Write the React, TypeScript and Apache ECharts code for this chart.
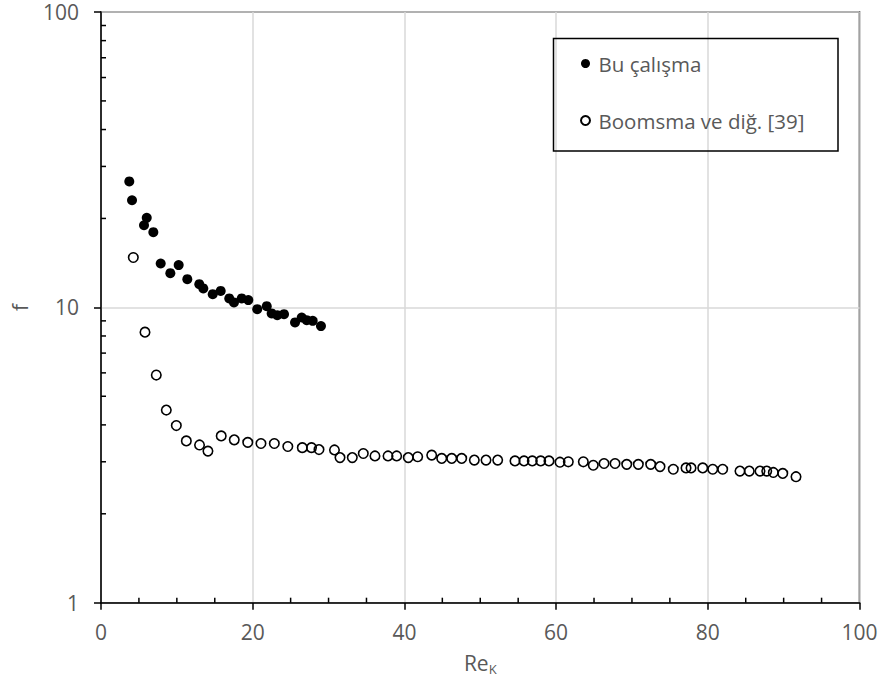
import React, { useEffect, useRef } from "react";
import * as echarts from "echarts";

const seriesNames = ["Bu çalışma", "Boomsma ve diğ. [39]"];

const reThisStudy = [3.73, 4.09, 5.67, 6.03, 6.9, 7.87, 9.14, 10.24, 11.38, 12.96, 13.49, 14.73, 15.78, 16.91, 17.53, 18.55, 19.42, 20.6, 21.85, 22.5, 23.24, 24.13, 25.58, 26.46, 27.12, 27.91, 29.0];
const fThisStudy = [26.7, 23.05, 18.97, 20.1, 17.97, 14.08, 13.05, 13.9, 12.46, 11.98, 11.59, 11.08, 11.37, 10.72, 10.39, 10.72, 10.58, 9.86, 10.09, 9.54, 9.41, 9.48, 8.89, 9.24, 9.05, 9.0, 8.64];

const reBoomsma = [4.26, 5.8, 7.29, 8.61, 9.93, 11.25, 12.99, 14.1, 15.85, 17.57, 19.35, 21.09, 22.85, 24.63, 26.54, 27.75, 28.74, 30.78, 31.51, 33.13, 34.58, 36.12, 37.84, 38.98, 40.51, 41.75, 43.6, 44.92, 46.24, 47.55, 49.22, 50.76, 52.3, 54.58, 55.77, 56.86, 57.97, 59.06, 60.51, 61.61, 63.59, 64.9, 66.32, 67.77, 69.31, 70.84, 72.47, 73.7, 75.45, 77.13, 77.79, 79.33, 80.65, 81.96, 84.24, 85.47, 86.88, 87.77, 88.64, 89.88, 91.63];
const fBoomsma = [14.75, 8.24, 5.9, 4.49, 3.98, 3.53, 3.42, 3.26, 3.67, 3.56, 3.49, 3.46, 3.46, 3.38, 3.35, 3.35, 3.3, 3.29, 3.1, 3.1, 3.2, 3.14, 3.14, 3.14, 3.1, 3.12, 3.16, 3.08, 3.08, 3.08, 3.04, 3.04, 3.04, 3.02, 3.02, 3.02, 3.02, 3.02, 2.99, 3.0, 3.0, 2.92, 2.96, 2.96, 2.94, 2.94, 2.94, 2.89, 2.83, 2.86, 2.86, 2.86, 2.83, 2.83, 2.79, 2.79, 2.79, 2.79, 2.76, 2.74, 2.67];

const xMinorTicks = [5, 10, 15, 25, 30, 35, 45, 50, 55, 65, 70, 75, 85, 90, 95];
const yMinorTicks = [2, 3, 4, 5, 6, 7, 8, 9, 20, 30, 40, 50, 60, 70, 80, 90];

const FONT = "'Open Sans', 'Noto Sans', sans-serif";
const GRAY = "#595959";

export default function App() {
  const ref = useRef<HTMLDivElement>(null);
  useEffect(() => {
    document.body.style.margin = "0";
    if (!ref.current) return;
    const chart = echarts.init(ref.current, undefined, { renderer: "svg" });
    const filled = reThisStudy.map((x, i) => [x, fThisStudy[i]]);
    const open = reBoomsma.map((x, i) => [x, fBoomsma[i]]);
    const minorTicks = [
      ...xMinorTicks.map((v) => [v, 1, 0]),
      ...yMinorTicks.map((v) => [0, v, 1]),
    ];
    chart.setOption({
      animation: false,
      textStyle: { fontFamily: FONT },
      grid: {
        left: 101,
        right: 20.5,
        top: 12,
        bottom: 92.3,
        show: true,
        borderColor: "#000",
        borderWidth: 1.5,
        backgroundColor: "transparent",
        containLabel: false,
        outerBoundsMode: "none",
      },
      legend: {
        orient: "vertical",
        left: 575,
        top: 48,
        itemWidth: 16,
        itemHeight: 9,
        itemGap: 36,
        data: seriesNames.map((n) => ({ name: n, icon: "circle" })),
        textStyle: { color: GRAY, fontSize: 20.5, fontFamily: FONT, lineHeight: 20 },
      },
      graphic: [
        {
          type: "rect",
          left: 551,
          top: 36,
          shape: { width: 284.5, height: 112.5 },
          style: { fill: "none", stroke: "#000", lineWidth: 1.5 },
          z: 10,
        },
      ],
      xAxis: {
        type: "value",
        min: 0,
        max: 100,
        interval: 20,
        name: "{b|Re}{k|K}",
        nameLocation: "middle",
        nameGap: 48,
        nameTextStyle: {
          rich: {
            b: { fontSize: 21, color: GRAY, fontFamily: FONT },
            k: { fontSize: 13, color: GRAY, fontFamily: FONT, padding: [12, 0, 0, 0] },
          },
        },
        axisLine: { lineStyle: { color: "#000", width: 1.5 } },
        axisTick: { show: true, inside: false, length: 7, lineStyle: { color: "#000", width: 1.5 } },
        axisLabel: { color: GRAY, fontSize: 21, margin: 18, fontFamily: FONT, lineHeight: 22 },
        splitLine: { show: true, lineStyle: { color: "#d9d9d9", width: 1.5 } },
      },
      yAxis: {
        type: "log",
        logBase: 10,
        min: 1,
        max: 100,
        name: "f",
        nameLocation: "middle",
        nameGap: 70,
        nameTextStyle: { color: GRAY, fontSize: 21, fontFamily: FONT, lineHeight: 22 },
        axisLine: { show: true, lineStyle: { color: "#000", width: 1.5 } },
        axisTick: { show: true, inside: false, length: 7, lineStyle: { color: "#000", width: 1.5 } },
        axisLabel: { color: GRAY, fontSize: 21, margin: 22, fontFamily: FONT, lineHeight: 18 },
        splitLine: { show: true, lineStyle: { color: "#d9d9d9", width: 1.5 } },
      },
      series: [
        {
          name: seriesNames[0],
          type: "scatter",
          data: filled,
          symbol: "circle",
          symbolSize: 10,
          itemStyle: { color: "#000", opacity: 1 },
          z: 5,
        },
        {
          name: seriesNames[1],
          type: "scatter",
          data: open,
          symbol: "circle",
          symbolSize: 9.5,
          itemStyle: { color: "rgba(0,0,0,0)", borderColor: "#000", borderWidth: 1.6, opacity: 1 },
          z: 4,
        },
        {
          name: "minorTicks",
          type: "custom",
          data: minorTicks,
          silent: true,
          z: 6,
          renderItem: (_params: any, api: any) => {
            const p = api.coord([api.value(0), api.value(1)]);
            const isY = api.value(2) === 1;
            return {
              type: "line",
              shape: isY
                ? { x1: p[0], y1: p[1], x2: p[0] + 5, y2: p[1] }
                : { x1: p[0], y1: p[1], x2: p[0], y2: p[1] - 5 },
              style: { stroke: "#000", lineWidth: 1.5 },
            };
          },
        },
      ],
    });
    return () => chart.dispose();
  }, []);
  return <div ref={ref} style={{ width: 880, height: 695 }} />;
}
